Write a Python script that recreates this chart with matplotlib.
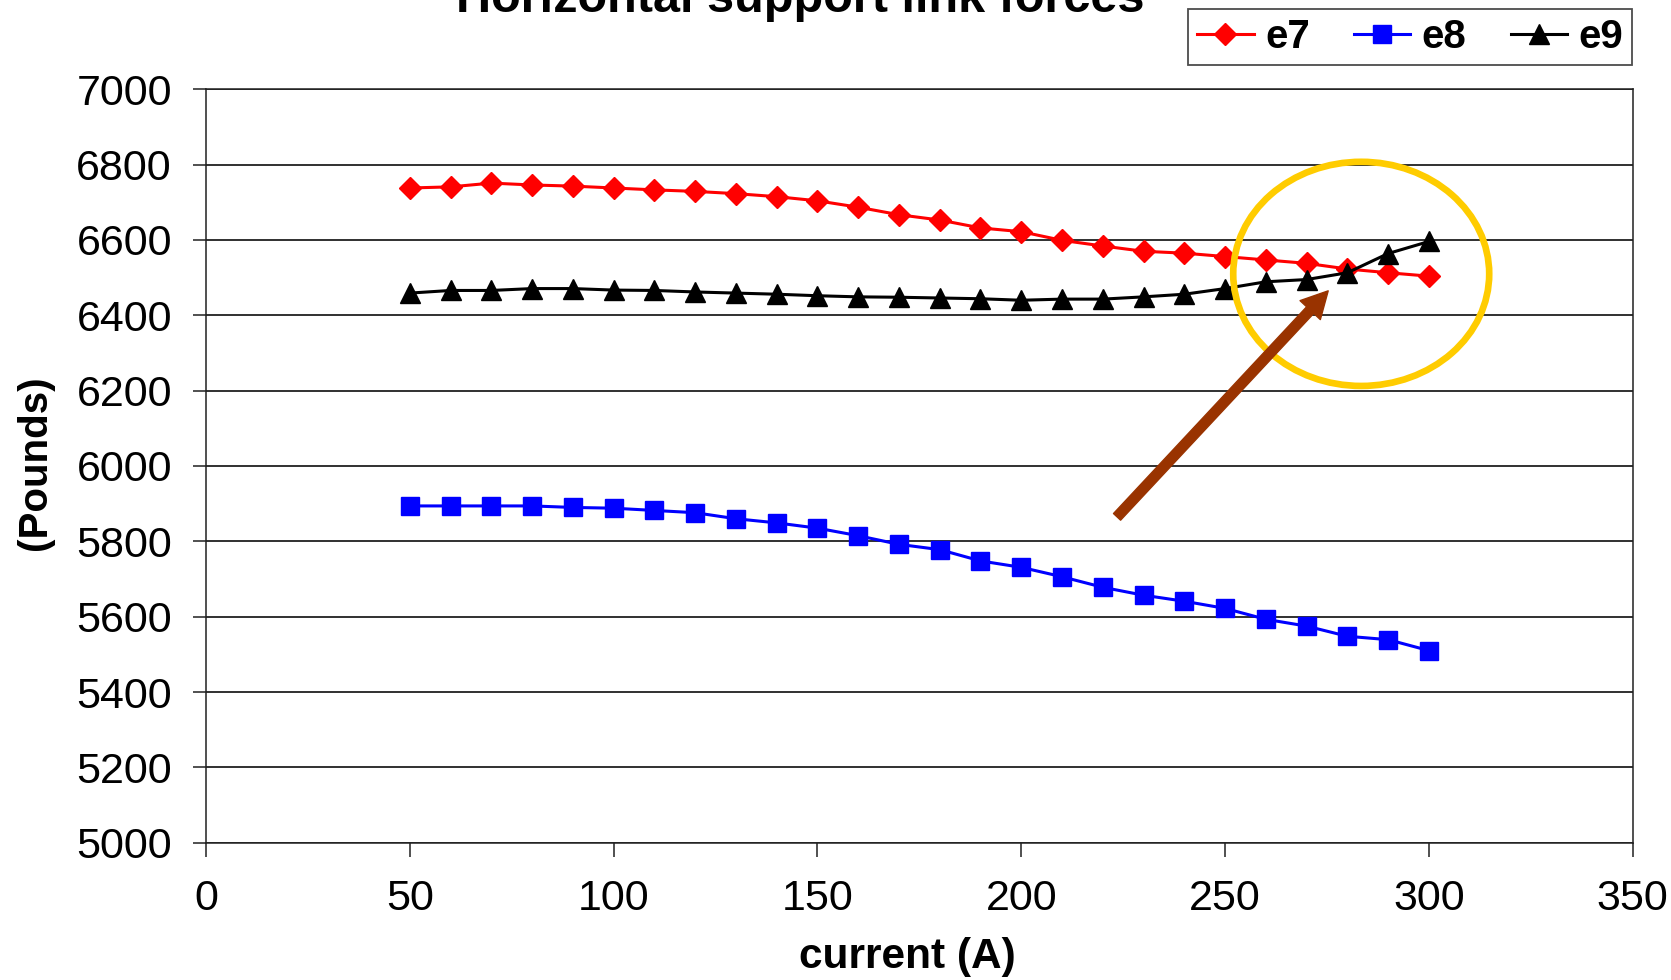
import matplotlib
matplotlib.use('Agg')
import matplotlib.pyplot as plt
from matplotlib.patches import Ellipse, FancyArrowPatch

plt.rcParams['font.family'] = ['Liberation Sans', 'DejaVu Sans']

# data
current = [50, 60, 70, 80, 90, 100, 110, 120, 130, 140, 150, 160, 170,
           180, 190, 200, 210, 220, 230, 240, 250, 260, 270, 280, 290, 300]
e7 = [6738, 6741, 6751, 6746, 6743, 6738, 6733, 6729, 6723, 6715, 6704, 6687, 6667,
      6653, 6632, 6622, 6599, 6584, 6570, 6565, 6556, 6547, 6538, 6523, 6513, 6504]
e8 = [5894, 5894, 5894, 5894, 5890, 5888, 5882, 5876, 5860, 5849, 5835, 5815, 5792,
      5778, 5748, 5731, 5706, 5678, 5657, 5641, 5622, 5593, 5575, 5548, 5539, 5510]
e9 = [6459, 6466, 6466, 6471, 6471, 6467, 6466, 6462, 6459, 6456, 6452, 6449, 6448,
      6446, 6444, 6440, 6443, 6443, 6449, 6456, 6471, 6489, 6495, 6513, 6564, 6596]

xticks = [0, 50, 100, 150, 200, 250, 300, 350]
yticks = [5000, 5200, 5400, 5600, 5800, 6000, 6200, 6400, 6600, 6800, 7000]

# annotation: circle around the crossing and the arrow pointing at it
circle_xy = (283.4, 6510)
circle_w, circle_h = 62.8, 595
arrow_from = (223.5, 5865)
arrow_to = (275.3, 6465)

fig = plt.figure(figsize=(16.71, 9.8), dpi=100)
ax = fig.add_axes([0.12328, 0.14010, 0.85380, 0.76878])

ax.plot(current, e7, '-', color='#ff0000', lw=2.2, marker='D', ms=11, label='e7')
ax.plot(current, e8, '-', color='#0000ff', lw=2.2, marker='s', ms=13.5, label='e8')
ax.plot(current, e9, '-', color='#000000', lw=2.2, marker='^', ms=14, label='e9')

ax.set_xlim(0, 350)
ax.set_ylim(5000, 7000)
ax.set_xticks(xticks)
ax.set_yticks(yticks)
ax.yaxis.grid(True, color='#202020', lw=1.3)
ax.set_axisbelow(True)
for s in ax.spines.values():
	s.set_linewidth(1.1)
	s.set_color('#202020')
ax.tick_params(axis='both', direction='out', labelsize=31, width=1.1, color='#202020')
ax.tick_params(axis='y', length=9.5, pad=15)
ax.tick_params(axis='x', length=10, pad=16)

ax.add_patch(Ellipse(circle_xy, circle_w, circle_h, fill=False, ec='#ffcc00', lw=4.8, zorder=5))
ax.add_patch(FancyArrowPatch(arrow_from, arrow_to, mutation_scale=1, shrinkA=0, shrinkB=0,
	arrowstyle='simple,head_width=20,head_length=19,tail_width=7', color='#993300', zorder=6))

fig.text(800/1671, 1 - 12/980, 'Horizontal support link forces', fontsize=35,
	fontweight='bold', ha='center', va='baseline')
fig.text(907/1671, 1 - 957/980, 'current (A)', fontsize=30.5, fontweight='bold',
	ha='center', va='center')
fig.text(35/1671, 1 - 463/980, '(Pounds)', fontsize=29, fontweight='bold',
	ha='center', va='center', rotation=90)

leg = ax.legend(loc='upper right', bbox_to_anchor=(1632/1671, 1 - 9/980),
	bbox_transform=fig.transFigure, ncol=3, fancybox=False, borderpad=0.22,
	handlelength=1.4, handletextpad=0.28, columnspacing=1.1, borderaxespad=0,
	prop={'size': 29, 'weight': 'bold'})
leg.get_frame().set_edgecolor('#202020')
leg.get_frame().set_linewidth(1.3)

fig.savefig('out.png', dpi=100)
